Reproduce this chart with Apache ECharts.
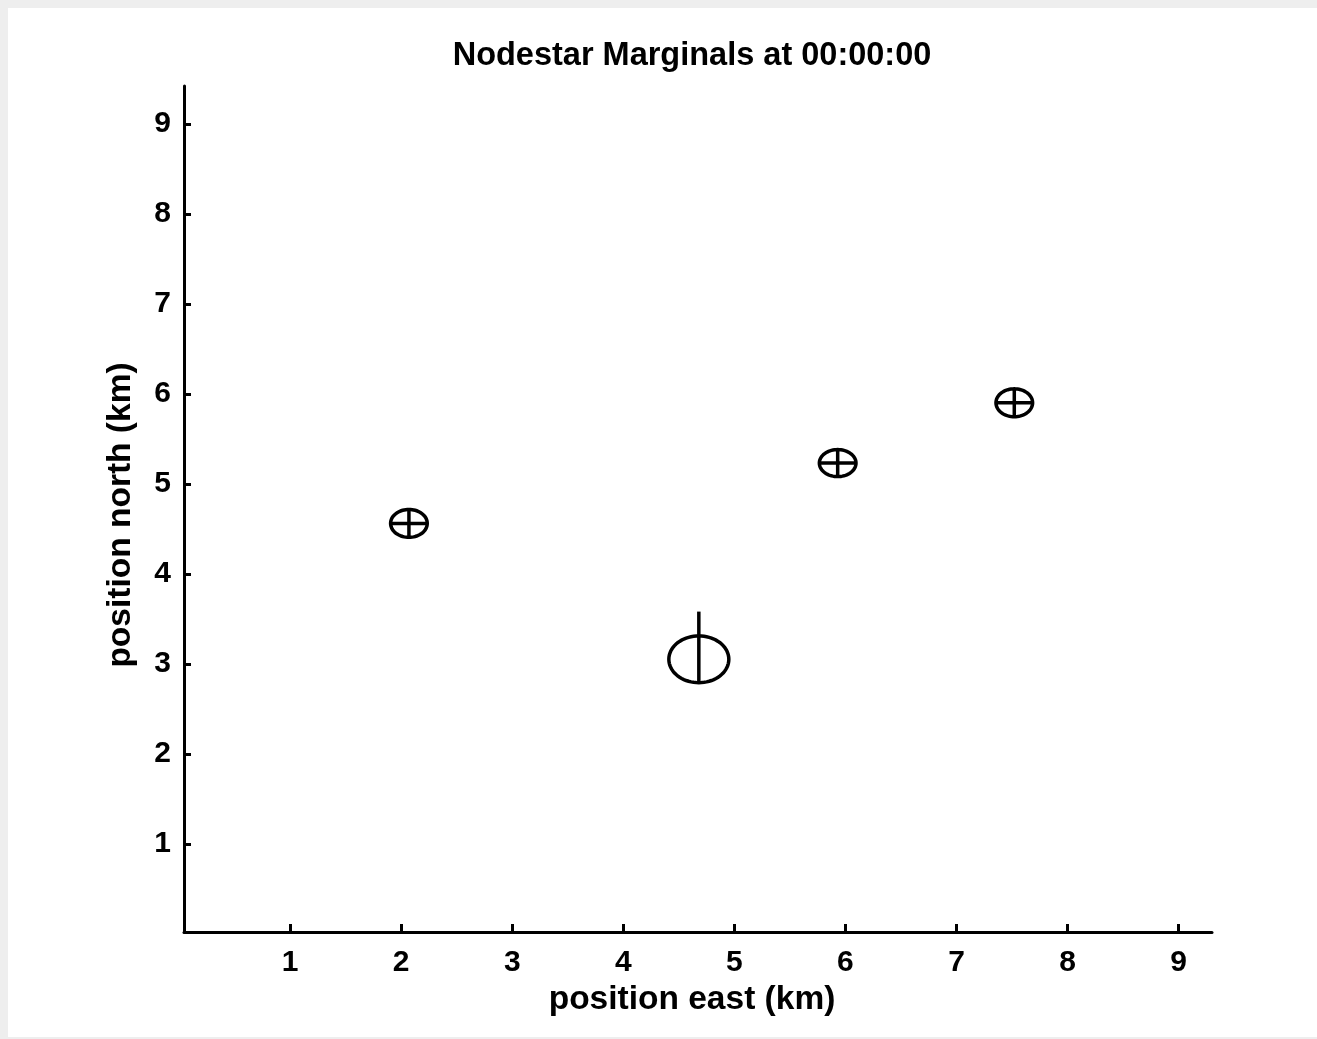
<!DOCTYPE html>
<html>
<head>
<meta charset="utf-8">
<script src="https://cdn.jsdelivr.net/npm/echarts@6/dist/echarts.min.js"></script>
<style>
  html, body { margin: 0; padding: 0; background: #eeeeee; width: 1317px; height: 1039px; overflow: hidden; }
  #chart { position: absolute; left: 8px; top: 8px; width: 1309px; height: 1029px; background: #ffffff; }
</style>
</head>
<body>
<div id="chart"></div>
<script>
// ---- data ----
const titleText = 'Nodestar Marginals at 00:00:00';
const xName = 'position east (km)';
const yName = 'position north (km)';
const xTicks = [1, 2, 3, 4, 5, 6, 7, 8, 9];
const yTicks = [1, 2, 3, 4, 5, 6, 7, 8, 9];
const east = [2.07, 4.68, 5.93, 7.52];
const north = [4.56, 3.05, 5.23, 5.90];
const sigmaEast = [0.165, 0.27, 0.165, 0.165];
const sigmaNorth = [0.155, 0.26, 0.15, 0.155];
const crossEast = [0.165, 0, 0.165, 0.165];
const lineNorthTop = [0.155, 0.53, 0.15, 0.155];

const seriesData = east.map((e, i) => [e, north[i], sigmaEast[i], sigmaNorth[i], crossEast[i], lineNorthTop[i]]);

const FONT = 'Liberation Sans';
const chart = echarts.init(document.getElementById('chart'));

function renderItem(params, api) {
  const e = api.value(0), n = api.value(1);
  const sE = api.value(2), sN = api.value(3), cE = api.value(4), top = api.value(5);
  const c = api.coord([e, n]);
  const rx = api.size([sE, 0])[0];
  const ry = api.size([0, sN])[1];
  const pts = [];
  for (let k = 0; k < 72; k++) {
    const a = k / 72 * Math.PI * 2;
    pts.push([c[0] + rx * Math.cos(a), c[1] + ry * Math.sin(a)]);
  }
  const lw = 3.5;
  const children = [
    { type: 'polygon', shape: { points: pts }, style: { stroke: '#000', lineWidth: lw, fill: null } }
  ];
  const vb = api.coord([e, n - sN]);
  const vt = api.coord([e, n + top]);
  children.push({ type: 'line', shape: { x1: vb[0], y1: vb[1], x2: vt[0], y2: vt[1] }, style: { stroke: '#000', lineWidth: lw } });
  if (cE > 0) {
    const hl = api.coord([e - cE, n]);
    const hr = api.coord([e + cE, n]);
    children.push({ type: 'line', shape: { x1: hl[0], y1: hl[1], x2: hr[0], y2: hr[1] }, style: { stroke: '#000', lineWidth: lw } });
  }
  return { type: 'group', children: children };
}

const option = {
  backgroundColor: '#ffffff',
  animation: false,
  title: {
    text: titleText,
    left: 679,
    top: 27,
    textAlign: 'center',
    textStyle: { fontFamily: FONT, fontSize: 32.5, fontWeight: 'bold', color: '#000' }
  },
  grid: { left: 176, top: 78, right: 105, bottom: 105 },
  xAxis: {
    type: 'value',
    min: 0.045,
    max: 9.3,
    name: xName,
    nameLocation: 'middle',
    nameGap: 51,
    nameTextStyle: { fontFamily: FONT, fontSize: 33.5, fontWeight: 'bold', color: '#000', padding: [0, 12, 0, 0] },
    axisLine: { show: true, onZero: false, lineStyle: { color: '#000', width: 3 } },
    axisTick: { show: true, inside: true, length: 8, customValues: xTicks, lineStyle: { color: '#000', width: 3 } },
    axisLabel: { customValues: xTicks, fontFamily: FONT, fontSize: 30, fontWeight: 'bold', color: '#000', margin: 16 },
    splitLine: { show: false }
  },
  yAxis: {
    type: 'value',
    min: 0.02,
    max: 9.42,
    name: yName,
    nameLocation: 'middle',
    nameGap: 46,
    nameTextStyle: { fontFamily: FONT, fontSize: 33.5, fontWeight: 'bold', color: '#000', padding: [0, 12, 0, 0] },
    axisLine: { show: true, onZero: false, lineStyle: { color: '#000', width: 3 } },
    axisTick: { show: true, inside: true, length: 7, customValues: yTicks, lineStyle: { color: '#000', width: 3 } },
    axisLabel: { customValues: yTicks, fontFamily: FONT, fontSize: 30, fontWeight: 'bold', color: '#000', margin: 13, padding: [4, 0, 0, 0] },
    splitLine: { show: false }
  },
  series: [{
    type: 'custom',
    renderItem: renderItem,
    data: seriesData,
    clip: false
  }]
};
chart.setOption(option);
</script>
</body>
</html>
